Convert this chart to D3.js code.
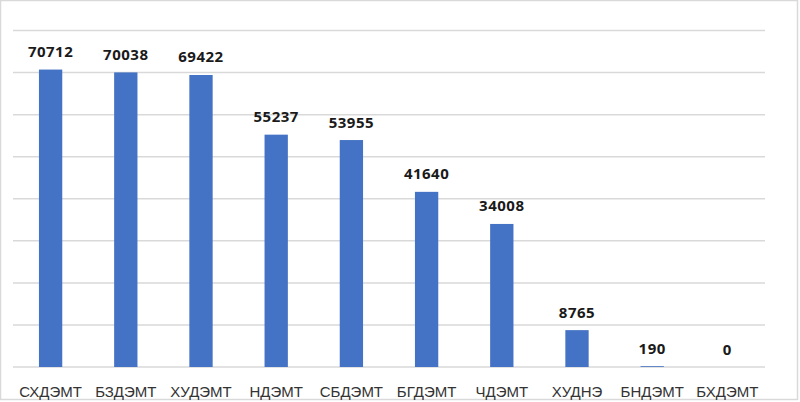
<!DOCTYPE html>
<html>
<head>
<meta charset="utf-8">
<script src="https://cdn.jsdelivr.net/npm/d3@7/dist/d3.min.js"></script>
<style>
  html, body { margin: 0; padding: 0; background: #fff; }
  svg { display: block; }
</style>
</head>
<body>
<svg id="chart" width="800" height="402"></svg>
<script>
const categories = ["СХДЭМТ", "БЗДЭМТ", "ХУДЭМТ", "НДЭМТ", "СБДЭМТ", "БГДЭМТ", "ЧДЭМТ", "ХУДНЭ", "БНДЭМТ", "БХДЭМТ"];
const values = [70712, 70038, 69422, 55237, 53955, 41640, 34008, 8765, 190, 0];
const gridTicks = [0, 10000, 20000, 30000, 40000, 50000, 60000, 70000, 80000];

const svg = d3.select("#chart");
const W = 800, H = 402;

// outer border
svg.append("rect")
  .attr("x", 0.5).attr("y", 0.5)
  .attr("width", W - 3).attr("height", H - 3)
  .attr("fill", "#fff")
  .attr("stroke", "#d9d9d9")
  .attr("stroke-width", 1.5);

const plot = { left: 13, right: 765, top: 30.5, bottom: 367 };

const x = d3.scaleBand()
  .domain(categories)
  .range([plot.left, plot.right])
  .paddingInner(0.69)
  .paddingOuter(0.345);

const y = d3.scaleLinear()
  .domain([0, 80000])
  .range([plot.bottom, plot.top]);

// gridlines
svg.append("g")
  .selectAll("line")
  .data(gridTicks)
  .join("line")
  .attr("x1", plot.left)
  .attr("x2", plot.right)
  .attr("y1", d => y(d))
  .attr("y2", d => y(d))
  .attr("stroke", "#d9d9d9")
  .attr("stroke-width", 1.5);

// bars
svg.append("g")
  .selectAll("rect")
  .data(values)
  .join("rect")
  .attr("x", (d, i) => x(categories[i]))
  .attr("width", x.bandwidth())
  .attr("y", d => y(d))
  .attr("height", d => Math.max(0, y(0) - y(d)))
  .attr("fill", "#4472c4");

// value labels
svg.append("g")
  .selectAll("text")
  .data(values)
  .join("text")
  .attr("x", (d, i) => x(categories[i]) + x.bandwidth() / 2)
  .attr("y", d => y(d) - 12.5)
  .attr("text-anchor", "middle")
  .attr("font-family", "'Open Sans', 'Liberation Sans', sans-serif")
  .attr("font-weight", "bold")
  .attr("font-size", "15px")
  .attr("letter-spacing", "0.5px")
  .attr("fill", "#1a1a1a")
  .text(d => d);

// category axis
const xAxis = d3.axisBottom(x).tickSize(0).tickPadding(0);
const gx = svg.append("g")
  .attr("transform", `translate(0,${plot.bottom})`)
  .call(xAxis);
gx.select(".domain").remove();
gx.selectAll("text")
  .attr("dy", 0)
  .attr("y", 30)
  .attr("font-family", "'Liberation Sans', Arial, sans-serif")
  .attr("font-size", "15px")
  .attr("fill", "#333");
</script>
</body>
</html>
